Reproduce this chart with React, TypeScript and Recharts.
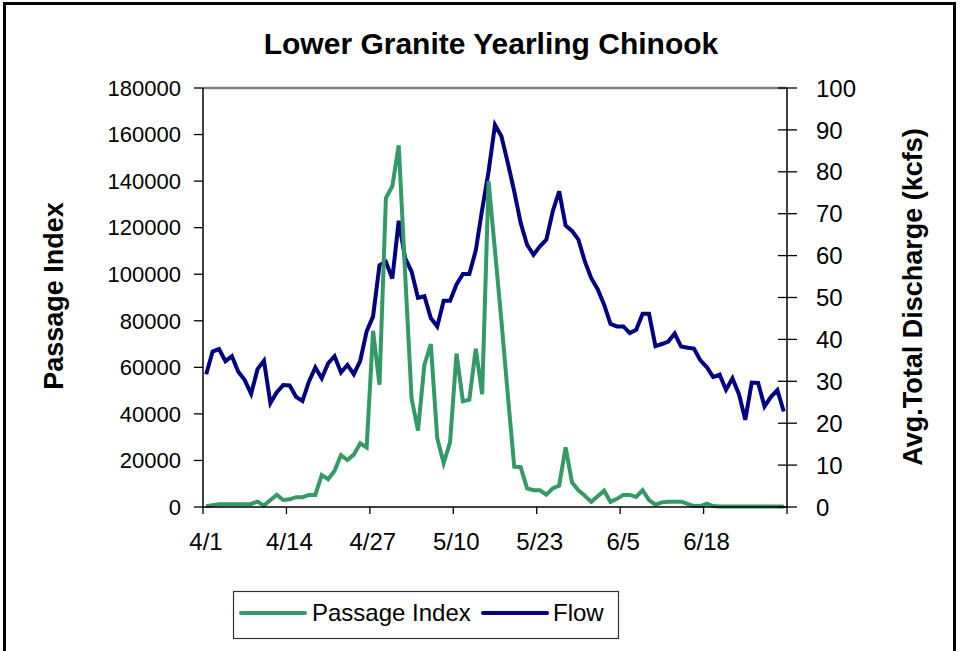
import React from "react";
import { LineChart, Line, XAxis, YAxis, ReferenceLine } from "recharts";

const FONT = "'Liberation Sans', Arial, sans-serif";
const GREEN = "#339966";
const NAVY = "#000080";

// one value per day, 4/1 .. 6/30
const passageIndex = [
  300, 800, 1200, 1200, 1200, 1200, 1200, 1300, 2300, 600,
  3000, 5200, 3000, 3300, 4200, 4200, 5200, 5200, 13700, 11900,
  15600, 22300, 20200, 22500, 27400, 25600, 75700, 52500, 132700, 137800,
  155400, 100000, 46800, 32800, 61100, 70000, 29600, 18900, 27900, 65900,
  45400, 46100, 68000, 48500, 140000, 110000, 80000, 48000, 17300, 17100,
  8000, 7200, 7200, 5300, 8000, 9200, 25600, 10600, 7200, 4800,
  2200, 4600, 7000, 2200, 3500, 5200, 5200, 4300, 7200, 3000,
  1000, 2000, 2300, 2300, 2300, 1300, 400, 400, 1400, 400,
  200, 200, 200, 200, 200, 200, 200, 200, 200, 200, 200,
];

const flow = [
  31.7, 37.1, 37.7, 34.8, 36.0, 32.3, 30.3, 27.0, 32.9, 34.9,
  24.8, 27.4, 29.1, 29.0, 26.3, 25.3, 29.9, 33.3, 30.7, 34.3,
  36.0, 32.1, 33.9, 31.7, 34.9, 41.9, 45.5, 57.7, 58.5, 54.5,
  68.3, 59.4, 56.2, 49.9, 50.3, 45.1, 43.1, 49.2, 49.2, 53.1,
  55.6, 55.6, 61.2, 71.0, 80.1, 91.2, 88.5, 82.1, 75.3, 67.8,
  62.6, 60.2, 62.2, 63.8, 70.6, 75.3, 67.2, 65.9, 63.8, 58.6,
  54.6, 52.0, 48.3, 43.7, 43.1, 43.1, 41.5, 42.3, 46.1, 46.1,
  38.4, 38.9, 39.5, 41.4, 38.3, 38.0, 37.8, 35.0, 33.4, 31.0,
  31.6, 28.0, 30.7, 27.0, 20.8, 29.7, 29.6, 24.0, 26.3, 27.9, 22.8,
];

const tickDays = [0, 13, 26, 39, 52, 65, 78, 91];
const tickLabels = ["4/1", "4/14", "4/27", "5/10", "5/23", "6/5", "6/18", ""];
const leftTicks = [0, 20000, 40000, 60000, 80000, 100000, 120000, 140000, 160000, 180000];
const rightTicks = [0, 10, 20, 30, 40, 50, 60, 70, 80, 90, 100];

// each day sits in the middle of its slot
const data = flow.map((f, i) => ({ day: i + 0.5, passage: passageIndex[i], flow: f }));

const DateTick = (props: any) => {
  const { x, y, payload } = props;
  const label = tickLabels[tickDays.indexOf(payload.value)];
  if (!label) return <g />;
  return (
    <text x={x + 3} y={y} dy={34} textAnchor="middle" fontSize={24} fontFamily={FONT} fill="#000">
      {label}
    </text>
  );
};

const RightTick = (props: any) => {
  const { x, y, payload } = props;
  const axisX = x - 10 - 19;
  return (
    <g>
      <line x1={axisX - 9} y1={y} x2={axisX} y2={y} stroke="#000" strokeWidth={1.3} />
      <text x={x} y={y} dy={8.6} textAnchor="start" fontSize={24} fontFamily={FONT} fill="#000">
        {payload.value}
      </text>
    </g>
  );
};

export default function App() {
  return (
    <div style={{ position: "absolute", left: 0, top: 0, width: 960, height: 651, overflow: "hidden", background: "#fff" }}>
      <div
        style={{
          position: "absolute",
          left: 3,
          top: 2,
          width: 953,
          height: 720,
          border: "3px solid #000",
          boxSizing: "border-box",
        }}
      />
      <div style={{ position: "absolute", left: 0, top: 0 }}>
        <LineChart width={960} height={651} data={data} margin={{ top: 88, right: 0, bottom: 0, left: 0 }}>
          <XAxis
            dataKey="day"
            type="number"
            domain={[0, 91]}
            ticks={tickDays}
            height={144}
            tickSize={7}
            tick={<DateTick />}
            axisLine={{ stroke: "#000", strokeWidth: 1.5 }}
            tickLine={{ stroke: "#000", strokeWidth: 1.3 }}
          />
          <YAxis
            yAxisId="left"
            width={203}
            domain={[0, 180000]}
            ticks={leftTicks}
            tickSize={9}
            tickMargin={13}
            tick={{ fontSize: 22, fill: "#000", fontFamily: FONT }}
            axisLine={{ stroke: "#000", strokeWidth: 1.5 }}
            tickLine={{ stroke: "#000", strokeWidth: 1.3 }}
          />
          <YAxis
            yAxisId="right"
            orientation="right"
            width={173}
            domain={[0, 100]}
            ticks={rightTicks}
            tickSize={10}
            tickMargin={19}
            tick={<RightTick />}
            axisLine={{ stroke: "#000", strokeWidth: 1.5 }}
            tickLine={{ stroke: "#000", strokeWidth: 1.3 }}
          />
          <ReferenceLine yAxisId="left" y={180000} stroke="#808080" strokeWidth={2.5} />
          <Line
            yAxisId="right"
            dataKey="flow"
            name="Flow"
            type="linear"
            stroke={NAVY}
            strokeWidth={4}
            dot={false}
            isAnimationActive={false}
          />
          <Line
            yAxisId="left"
            dataKey="passage"
            name="Passage Index"
            type="linear"
            stroke={GREEN}
            strokeWidth={4}
            dot={false}
            isAnimationActive={false}
          />
        </LineChart>
      </div>
      <svg width={960} height={651} style={{ position: "absolute", left: 0, top: 0, pointerEvents: "none" }} fontFamily={FONT}>
        <text x={491} y={54} textAnchor="middle" fontSize={30} fontWeight="bold" fill="#000">
          Lower Granite Yearling Chinook
        </text>
        <text transform="translate(63,296) rotate(-90)" textAnchor="middle" fontSize={27} fontWeight="bold" fill="#000">
          Passage Index
        </text>
        <text transform="translate(922,297) rotate(-90)" textAnchor="middle" fontSize={27} fontWeight="bold" fill="#000">
          Avg.Total Discharge (kcfs)
        </text>
        <rect x={233.5} y={591.5} width={385} height={47} fill="#fff" stroke="#333" strokeWidth={1.2} />
        <line x1={241} y1={613} x2={305} y2={613} stroke={GREEN} strokeWidth={4} strokeLinecap="round" />
        <text x={312} y={620.5} fontSize={24} fill="#000">Passage Index</text>
        <line x1={483} y1={613} x2={547} y2={613} stroke={NAVY} strokeWidth={4} strokeLinecap="round" />
        <text x={553} y={620.5} fontSize={24} fill="#000">Flow</text>
      </svg>
    </div>
  );
}
